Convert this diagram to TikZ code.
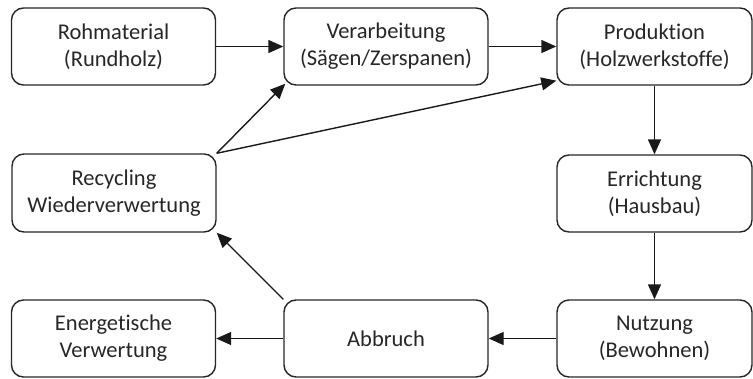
\documentclass[tikz,border=0pt]{standalone}
\usepackage{fontspec}
\setmainfont{Carlito}[Ligatures=NoCommon]
\usetikzlibrary{arrows.meta}
\begin{document}
\begin{tikzpicture}[x=1pt,y=-1pt,
  box/.style={draw=black!85, line width=1.4pt, rounded corners=12pt,
    minimum width=204pt, minimum height=77pt, align=center, inner sep=0pt,
    font=\fontsize{22.5}{27}\selectfont, text=black!85},
  arr/.style={-{Triangle[length=15pt,width=13pt]}, line width=1.4pt, draw=black!90}]
\useasboundingbox (0,0) rectangle (753,378);
\node[box] (roh)  at (113.5,46.5) {Rohmaterial\\(Rundholz)};
\node[box] (ver)  at (386,46.5)   {Verarbeitung\\(Sägen/Zerspanen)};
\node[box, minimum width=195pt] (prod) at (654.5,46.5) {Produktion\\(Holzwerkstoffe)};
\node[box, minimum height=78pt] (rec)  at (114,193)    {Recycling\\Wiederverwertung};
\node[box, minimum width=195pt] (err)  at (654.5,193.5) {Errichtung\\(Hausbau)};
\node[box] (ene)  at (113.5,338.5) {Energetische\\Verwertung};
\node[box] (abb)  at (386,338.5)  {Abbruch};
\node[box, minimum width=195pt] (nut)  at (654.5,338.5) {Nutzung\\(Bewohnen)};
\draw[arr] (roh) -- (ver);
\draw[arr] (ver) -- (prod);
\draw[arr] (prod) -- (err);
\draw[arr] (err) -- (nut);
\draw[arr] (nut) -- (abb);
\draw[arr] (abb) -- (ene);
\draw[arr] (abb.north west) -- (rec.south east);
\draw[arr] (rec.north east) -- ([shift={(2pt,2pt)}]ver.south west);
\draw[arr] (rec.north east) -- ([yshift=5pt]prod.south west);
\end{tikzpicture}
\end{document}
